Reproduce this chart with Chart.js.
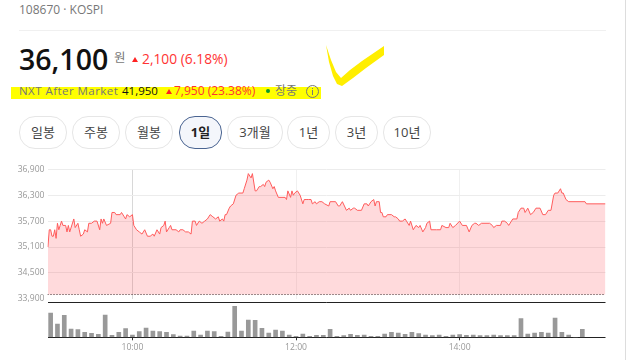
<!DOCTYPE html>
<html lang="ko">
<head>
<meta charset="utf-8">
<title>108670 KOSPI</title>
<script src="https://cdn.jsdelivr.net/npm/chart.js@4"></script>
<style>
html,body{margin:0;padding:0;background:#fff}
body{width:640px;height:360px;position:relative;overflow:hidden;font-family:"Open Sans","Noto Sans CJK KR",sans-serif}
.t{position:absolute;white-space:nowrap;line-height:1}
canvas{position:absolute;left:0}
#priceChart{top:160px}
#volumeChart{top:300px}
.btn{position:absolute;top:116px;height:31px;border:1px solid #e6e6e6;border-radius:16px;text-align:center;line-height:30px;font-size:13px;color:#444;box-sizing:content-box}
.btn.on{border:1px solid #4a6491;background:#f4f6fb;color:#222;font-weight:700}
.tri{position:absolute;width:0;height:0;border-left:3.5px solid transparent;border-right:3.5px solid transparent;border-bottom:5px solid #f22}
</style>
</head>
<body>
<div style="position:absolute;left:11px;top:87px;width:310px;height:12px;background:#ffff00"></div>
<svg style="position:absolute;left:0;top:0" width="640" height="360"><polygon fill="#ffee00" points="326,45 331,60 336,72 341,78 350,70 362,61 384,46 384,55 366,68 353,78 342,86 337,84 333,76 329,62"/><line x1="625.5" y1="0" x2="625.5" y2="360" stroke="#ddd" stroke-width="1"/><line x1="19" y1="30.5" x2="606" y2="30.5" stroke="#f0f0f0"/><circle cx="312.5" cy="91.5" r="6" fill="none" stroke="#777"/><rect x="312" y="90" width="1" height="5" fill="#777"/><rect x="312" y="88" width="1" height="1" fill="#777"/></svg>
<span class="t" style="left:19px;top:4px;font-size:12px;color:#777">108670 · KOSPI</span>
<span class="t" style="left:19px;top:45px;font-size:28.5px;font-weight:600;color:#111">36,100</span>
<span class="t" style="left:114px;top:52px;font-size:12.5px;color:#777">원</span>
<i class="tri" style="left:132px;top:57px"></i>
<span class="t" style="left:142px;top:52px;font-size:13.8px;color:#f33">2,100 (6.18%)</span>
<span class="t" style="left:19px;top:85px;font-size:11.5px;letter-spacing:.45px;color:#777">NXT After Market</span>
<span class="t" style="left:122px;top:85px;font-size:11.5px;color:#111">41,950</span>
<i class="tri" style="left:166px;top:89px"></i>
<span class="t" style="left:174px;top:85px;font-size:12px;color:#f33">7,950 (23.38%)</span>
<div style="position:absolute;left:266px;top:89px;width:4px;height:4px;border-radius:50%;background:#0a9a2a"></div>
<span class="t" style="left:275px;top:85px;font-size:12px;color:#777">장중</span>
<div class="btn" style="left:19px;width:46px">일봉</div>
<div class="btn" style="left:72px;width:46px">주봉</div>
<div class="btn" style="left:125px;width:46px">월봉</div>
<div class="btn on" style="left:179px;width:41px">1일</div>
<div class="btn" style="left:227px;width:54px">3개월</div>
<div class="btn" style="left:287px;width:41px">1년</div>
<div class="btn" style="left:335px;width:41px">3년</div>
<div class="btn" style="left:383px;width:46px">10년</div>
<canvas id="priceChart" width="640" height="147"></canvas>
<canvas id="volumeChart" width="640" height="60"></canvas>
<script>
// minutes since 09:00
const priceMinutes=[-2,-1,0,1,2,3,4,5,6,7,8,9,11,12,13,14,17,18,20,21,22,24,25,27,28,30,32,34,36,37,38,39,41,44,45,47,48,51,52,54,55,56,58,60,61,63,65,67,69,71,73,75,76,78,80,81,83,84,85,87,88,89,92,94,95,97,99,101,103,104,106,107,109,111,113,115,117,119,121,123,124,126,127,128,129,131,132,134,136,138,141,142,144,145,147,148,150,151,153,154,156,157,158,160,161,163,164,165,167,172,173,174,176,177,178,179,181,183,185,186,188,189,191,192,194,195,197,199,201,204,205,209,211,212,214,217,219,220,222,223,225,228,230,232,233,235,237,238,239,241,242,243,244,246,247,250,252,253,255,256,258,260,261,263,264,266,268,270,271,273,275,276,278,279,283,286,287,290,292,293,295,297,300,302,305,307,309,311,312,314,316,322,324,325,327,330,331,333,335,336,338,339,342,343,345,347,348,350,352,354,356,359,361,363,365,367,369,370,372,374,375,376,378,380,392,393,407];
const priceValues=[35100,35500,35500,35350,35350,35500,35300,35650,35500,35600,35700,35600,35600,35450,35600,35450,35750,35550,35650,35500,35350,35400,35500,35450,35650,35650,35700,35700,35500,35750,35650,35750,35600,35650,35900,35900,35850,35850,35900,35800,35750,35850,35800,35850,35600,35500,35450,35400,35500,35350,35350,35400,35350,35500,35400,35550,35600,35700,35450,35550,35600,35500,35500,35450,35500,35500,35450,35450,35400,35700,35700,35600,35700,35650,35700,35750,35850,35800,35750,35800,35700,35750,35700,35850,35850,36000,36050,36100,36300,36350,36350,36450,36650,36800,36700,36800,36400,36400,36500,36500,36550,36500,36600,36650,36600,36450,36500,36400,36250,36250,36200,36400,36250,36400,36300,36350,36400,36300,36100,36200,36200,36200,36200,36100,36150,36100,36150,36150,36100,36050,36150,36150,36050,36050,36150,35950,36000,35950,36000,36000,35950,35950,36100,36100,36050,36150,36200,36050,36150,36150,35900,35900,35800,35800,35850,35850,35800,35800,35750,35700,35700,35750,35700,35600,35700,35500,35600,35550,35600,35450,35550,35650,35700,35500,35500,35500,35600,35550,35550,35650,35550,35600,35700,35600,35600,35450,35600,35650,35650,35600,35650,35650,35600,35550,35600,35600,35700,35700,35650,35600,35700,35750,35750,35900,36000,36000,35900,36000,35850,35900,36000,36000,35850,35850,35950,35950,36300,36350,36350,36450,36350,36350,36200,36150,36150,36100,36100];
const prevClose=34000;
const priceTicks=[33900,34500,35100,35700,36300,36900];
const volumeMinutes=[0,5,10,15,20,25,30,35,40,45,50,55,60,65,70,75,80,85,90,95,100,105,110,115,120,125,130,135,140,145,150,155,160,165,170,175,180,185,190,195,200,205,210,215,220,225,230,235,240,245,250,255,260,265,270,275,280,285,290,295,300,305,310,315,320,325,330,335,340,345,350,355,360,365,370,375,380,385,390];
const volumeValues=[73,40,66,25,23,15,12,9,67,6,15,26,7,17,28,19,17,15,8,4,4,19,7,19,17,3,16,93,19,52,51,27,13,22,19,7,3,10,3,6,6,24,3,5,9,6,7,3,3,10,15,13,9,15,11,7,5,7,3,7,8,6,7,5,5,7,5,5,5,56,10,13,15,13,58,15,7,0,24];
const timeTicks=[60,180,300];
const timeLabels=['10:00','12:00','14:00'];
const xMin=-2.3,xMax=407;
const axisFont={family:'"Open Sans",sans-serif',size:8.6};

new Chart(document.getElementById('priceChart'),{
  type:'line',
  data:{datasets:[
    {data:priceMinutes.map((m,i)=>({x:m,y:priceValues[i]})),borderColor:'#ff5c5c',borderWidth:1,backgroundColor:'rgba(255,60,70,0.19)',fill:{value:prevClose},pointRadius:0,tension:0},
    {data:[{x:xMin,y:prevClose},{x:xMax,y:prevClose}],borderColor:'#222',borderWidth:1,borderDash:[1,2],pointRadius:0,fill:false}
  ]},
  options:{
    responsive:false,animation:false,
    layout:{padding:{top:9.3,right:34.5,bottom:0,left:0}},
    plugins:{legend:{display:false},tooltip:{enabled:false}},
    scales:{
      x:{type:'linear',min:xMin,max:xMax,
        afterBuildTicks:s=>{s.ticks=timeTicks.map(v=>({value:v}));},
        afterFit:s=>{s.height=0;},
        ticks:{display:false},border:{display:false},
        grid:{drawTicks:false,color:c=>c.tick&&c.tick.value===60?'#d8d8d8':'#f0f0f0'}},
      y:{min:33900,max:36900,
        afterBuildTicks:s=>{s.ticks=priceTicks.map(v=>({value:v}));},
        afterFit:s=>{s.width=47.5;},
        ticks:{font:axisFont,color:'#999',padding:3,callback:v=>v.toLocaleString('en-US')},
        border:{display:false},grid:{drawTicks:false,color:c=>c.tick&&c.tick.value===33900?'transparent':'#ececec'}}
    }
  }
});

new Chart(document.getElementById('volumeChart'),{
  type:'bar',
  data:{datasets:[{data:volumeMinutes.map((m,i)=>({x:m,y:volumeValues[i]})),backgroundColor:'#999',barThickness:4}]},
  options:{
    responsive:false,animation:false,
    layout:{padding:{top:2.3,right:34.5,bottom:0,left:0}},
    plugins:{legend:{display:false},tooltip:{enabled:false}},
    scales:{
      x:{type:'linear',offset:false,min:xMin,max:xMax,
        afterBuildTicks:s=>{s.ticks=timeTicks.map(v=>({value:v}));},
        afterFit:s=>{s.height=22.7;},
        ticks:{font:axisFont,color:'#999',padding:2,maxRotation:0,callback:v=>timeLabels[timeTicks.indexOf(v)]},
        border:{display:false},
        grid:{offset:false,drawOnChartArea:false,tickLength:3,tickColor:'#333'}},
      y:{min:0,max:105,
        afterBuildTicks:s=>{s.ticks=[{value:0},{value:105}];},
        afterFit:s=>{s.width=47.5;},
        ticks:{display:false},border:{display:false},
        grid:{drawTicks:false,color:'#222'}}
    }
  }
});
</script>
</body>
</html>
